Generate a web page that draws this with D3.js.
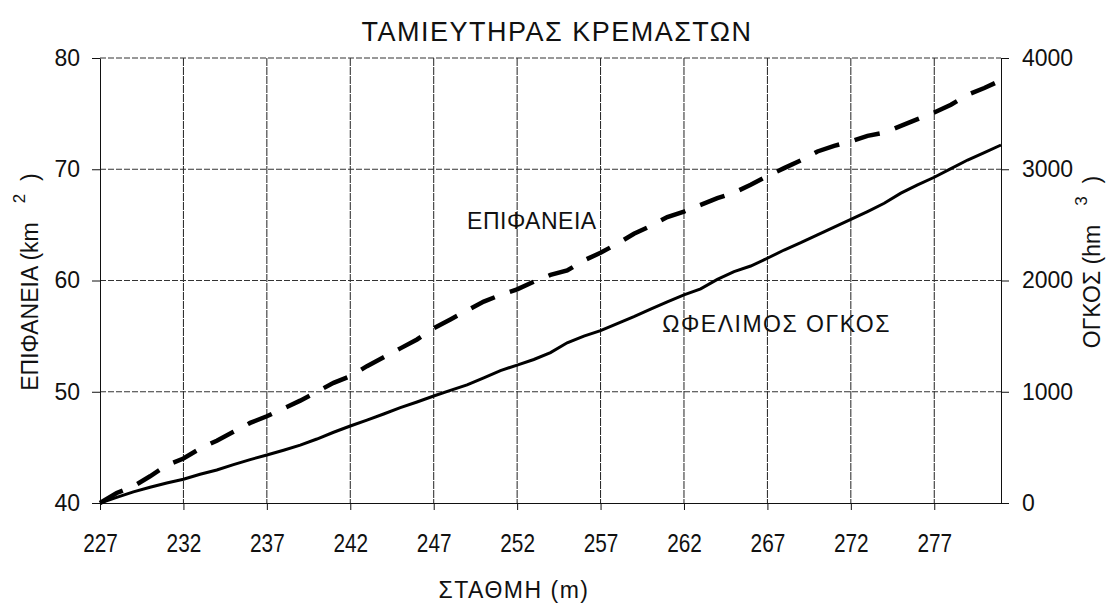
<!DOCTYPE html>
<html>
<head>
<meta charset="utf-8">
<script src="https://cdn.jsdelivr.net/npm/d3@7"></script>
<style>
  body { margin: 0; background: #fff; }
  svg text { font-family: "Liberation Sans", Arial, sans-serif; fill: #111; }
</style>
</head>
<body>
<div id="chart"></div>
<script>
//DATA: ELEVATION (m), SURFACE (km2), USEFUL VOLUME (hm3)
var elevation = d3.range(227, 282);
var surface = [40.0, 40.9, 41.5, 42.4, 43.4, 44.0, 44.9, 45.6, 46.4, 47.2,
               47.8, 48.5, 49.2, 50.0, 50.8, 51.4, 52.3, 53.1, 53.9, 54.7,
               55.7, 56.5, 57.3, 58.1, 58.7, 59.2, 59.9, 60.5, 60.9, 61.8,
               62.5, 63.3, 64.2, 64.9, 65.7, 66.2, 66.8, 67.4, 67.9, 68.6,
               69.4, 70.1, 70.8, 71.6, 72.1, 72.5, 73.0, 73.3, 73.9, 74.5,
               75.1, 75.8, 76.7, 77.3, 78.0];
var volume = [0, 50, 100, 142, 180, 213, 258, 297, 345, 390,
              431, 474, 520, 575, 636, 692, 745, 800, 857, 908,
              962, 1012, 1061, 1125, 1190, 1240, 1290, 1352, 1440, 1500,
              1550, 1613, 1675, 1742, 1808, 1870, 1925, 2010, 2080, 2130,
              2200, 2274, 2340, 2410, 2480, 2550, 2620, 2694, 2785, 2860,
              2928, 3005, 3083, 3150, 3218];
var xTicks = d3.range(227, 281, 5);
var leftTicks = [40, 50, 60, 70, 80];
var rightTicks = [0, 1000, 2000, 3000, 4000];

var svg = d3.select("#chart").append("svg")
  .attr("width", 1115)
  .attr("height", 606);

//INNER MARGINS
var margin = {top: 58, right: 114, bottom: 103, left: 100};
var width = 1115 - margin.left - margin.right,
    height = 606 - margin.top - margin.bottom;

var g = svg.append("g")
  .attr("transform", `translate(${margin.left}, ${margin.top})`);

//SCALES
var xScale = d3.scaleLinear().domain([227, 281]).range([0, width]);
var yLeft = d3.scaleLinear().domain([40, 80]).range([height, 0]);
var yRight = d3.scaleLinear().domain([0, 4000]).range([height, 0]);

//GRIDLINES
g.append("g").selectAll("line.vgrid")
  .data(xTicks.slice(1))
  .enter().append("line")
  .attr("x1", function(d) { return xScale(d); })
  .attr("x2", function(d) { return xScale(d); })
  .attr("y1", 0)
  .attr("y2", height)
  .attr("stroke", "#222")
  .attr("stroke-width", 1)
  .attr("stroke-dasharray", "8,1");

g.append("g").selectAll("line.hgrid")
  .data(leftTicks.slice(1))
  .enter().append("line")
  .attr("x1", 0)
  .attr("x2", width)
  .attr("y1", function(d) { return yLeft(d); })
  .attr("y2", function(d) { return yLeft(d); })
  .attr("stroke", "#333")
  .attr("stroke-width", 1)
  .attr("stroke-dasharray", "6,2");

//AXES
var xAxis = g.append("g")
  .attr("class", "x_axis")
  .attr("transform", `translate(0, ${height})`)
  .call(d3.axisBottom(xScale).tickValues(xTicks).tickSize(7).tickSizeOuter(0).tickPadding(24));
//narrow digits, like the original print
xAxis.selectAll("text")
  .style("font-size", "26px")
  .attr("transform", "scale(0.8, 1)");

var leftAxis = g.append("g")
  .attr("class", "y_left")
  .call(d3.axisLeft(yLeft).tickValues(leftTicks).tickSize(8).tickSizeOuter(0).tickPadding(12));
leftAxis.selectAll("text").style("font-size", "23px");

var rightAxis = g.append("g")
  .attr("class", "y_right")
  .attr("transform", `translate(${width}, 0)`)
  .call(d3.axisRight(yRight).tickValues(rightTicks).tickFormat(d3.format("d"))
    .tickSize(8).tickSizeOuter(0).tickPadding(13));
rightAxis.selectAll("text").style("font-size", "23px");

svg.selectAll(".domain, .tick line").attr("stroke", "#111");

//LINES
var surfaceLine = d3.line()
  .x(function(d, i) { return xScale(elevation[i]); })
  .y(function(d) { return yLeft(d); });

var volumeLine = d3.line()
  .x(function(d, i) { return xScale(elevation[i]); })
  .y(function(d) { return yRight(d); });

g.append("path")
  .datum(surface)
  .attr("d", surfaceLine)
  .attr("fill", "none")
  .attr("stroke", "#000")
  .attr("stroke-width", 4.5)
  .attr("stroke-dasharray", "26,16");

g.append("path")
  .datum(volume)
  .attr("d", volumeLine)
  .attr("fill", "none")
  .attr("stroke", "#000")
  .attr("stroke-width", 3);

//SERIES LABELS
g.append("text")
  .attr("x", xScale(249.0))
  .attr("y", yLeft(64.6))
  .style("font-size", "23px")
  .style("letter-spacing", "0.5px")
  .text("ΕΠΙΦΑΝΕΙΑ");

g.append("text")
  .attr("x", xScale(260.7))
  .attr("y", yRight(1535))
  .style("font-size", "23px")
  .style("letter-spacing", "1.5px")
  .text("ΩΦΕΛΙΜΟΣ ΟΓΚΟΣ");

//TITLE
svg.append("text")
  .attr("x", 557)
  .attr("y", 41)
  .style("text-anchor", "middle")
  .style("font-size", "27px")
  .style("letter-spacing", "1.5px")
  .text("ΤΑΜΙΕΥΤΗΡΑΣ ΚΡΕΜΑΣΤΩΝ");

//AXIS TITLES
svg.append("text")
  .attr("x", 514)
  .attr("y", 598)
  .style("text-anchor", "middle")
  .style("font-size", "23px")
  .style("letter-spacing", "1.5px")
  .text("ΣΤΑΘΜΗ (m)");

var leftTitle = svg.append("text")
  .attr("transform", "translate(38, 282) rotate(-90)")
  .style("text-anchor", "middle")
  .style("font-size", "23px");
leftTitle.append("tspan").text("ΕΠΙΦΑΝΕΙΑ (km\u00a0\u00a0\u00a0");
leftTitle.append("tspan").attr("dy", -13).style("font-size", "17px").text("2");
leftTitle.append("tspan").attr("dy", 13).text("\u00a0\u00a0)");

var rightTitle = svg.append("text")
  .attr("transform", "translate(1100, 262) rotate(-90)")
  .style("text-anchor", "middle")
  .style("font-size", "23px");
rightTitle.append("tspan").text("ΟΓΚΟΣ (hm\u00a0\u00a0\u00a0");
rightTitle.append("tspan").attr("dy", -13).style("font-size", "17px").text("3");
rightTitle.append("tspan").attr("dy", 13).text("\u00a0\u00a0)");
</script>
</body>
</html>
